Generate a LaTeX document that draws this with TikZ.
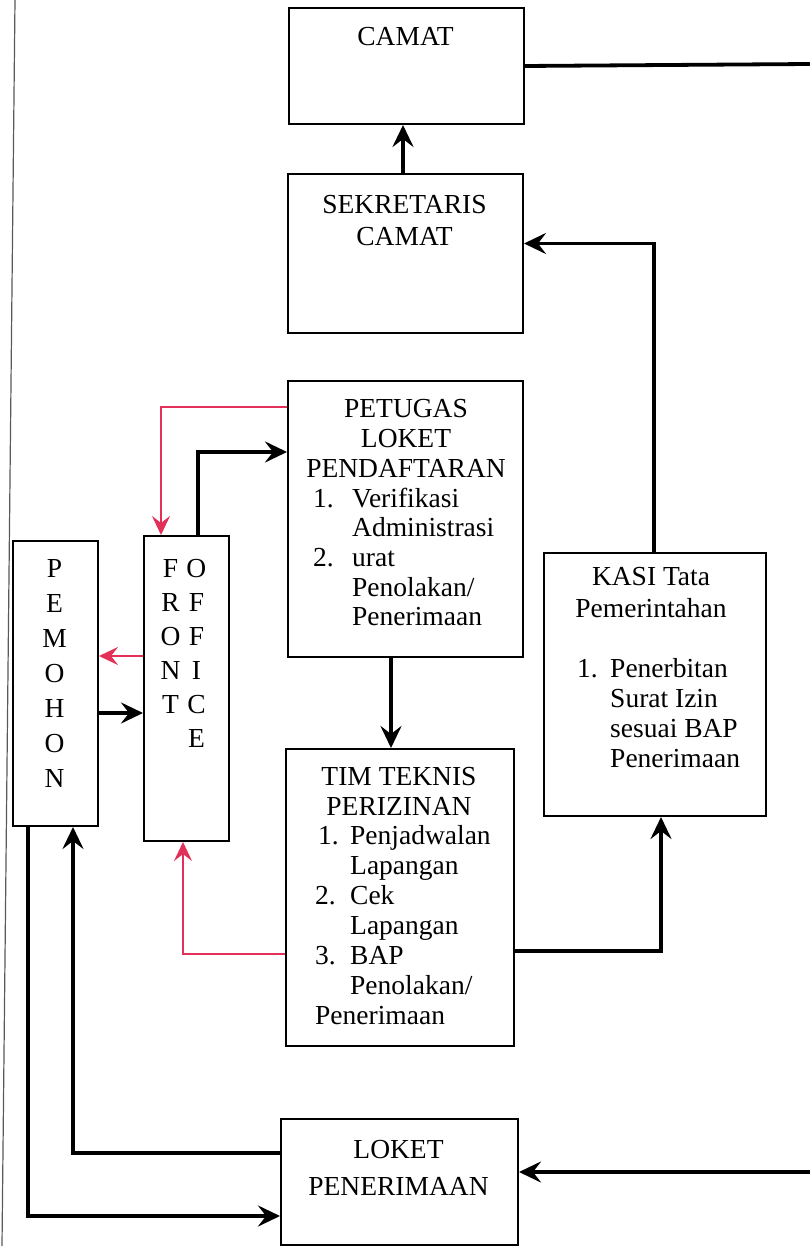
\documentclass[tikz,border=0pt]{standalone}
\usepackage{fontspec}
\setmainfont{Liberation Serif}
\usetikzlibrary{arrows.meta}
\definecolor{redline}{RGB}{226,48,88}
\begin{document}
\begin{tikzpicture}[x=1pt,y=-1pt,
  box/.style={draw, line width=2pt, inner sep=0pt, anchor=north west},
  txt/.style={inner sep=0pt, font=\fontsize{27.5}{30}\selectfont},
  tip/.style={-{Stealth[length=22pt,width=21pt,inset=8pt]}},
  rtip/.style={-{Stealth[length=19pt,width=18pt,inset=7pt]}},
  conn/.style={tip, line width=3.8pt, black},
  rconn/.style={rtip, line width=2.6pt, redline},
  plain/.style={line width=3.8pt, black}
]
\fill[white] (0,0) rectangle (810,1246);
\useasboundingbox (0,0) rectangle (810,1246);
% page edge of the scan
\draw[line width=1.2pt, black!65] (15,0) -- (2,1246);

% boxes
\node[box, minimum width=235pt, minimum height=116pt] (camat) at (288,7) {};
\node[box, minimum width=235pt, minimum height=159pt] (sek) at (287,173) {};
\node[box, minimum width=235pt, minimum height=276pt] (pet) at (287,380) {};
\node[box, minimum width=228pt, minimum height=297pt] (tim) at (285,748) {};
\node[box, minimum width=222pt, minimum height=263pt] (kasi) at (543,552) {};
\node[box, minimum width=85pt, minimum height=285pt] (pem) at (12,540) {};
\node[box, minimum width=85pt, minimum height=305pt] (fo) at (143,535) {};
\node[box, minimum width=237pt, minimum height=126pt] (lok) at (280,1118) {};

% texts
\node[txt, anchor=north] (camatT) at (405.5,24) {\begin{tabular}{@{}c@{}}CAMAT\end{tabular}};
\node[txt, anchor=north, font=\fontsize{27.5}{32}\selectfont] (sekT) at (404.5,190.6)
  {\begin{tabular}{@{}c@{}}SEKRETARIS\\CAMAT\end{tabular}};
\node[txt, anchor=north, font=\fontsize{27.5}{29.7}\selectfont] (petT) at (406,397)
  {\begin{tabular}{@{}c@{}}PETUGAS\\LOKET\\PENDAFTARAN\end{tabular}};
\node[txt, anchor=north west, font=\fontsize{27.5}{29.7}\selectfont] (petL) at (313,486.1)
  {\begin{tabular}{@{}p{39pt}@{}l@{}}1.&Verifikasi\\&Administrasi\\2.&urat\\&Penolakan/\\&Penerimaan\end{tabular}};
\node[txt, anchor=north] (timT) at (399,764)
  {\begin{tabular}{@{}c@{}}TIM TEKNIS\\PERIZINAN\end{tabular}};
\node[txt, anchor=north west] (timL) at (315,823.5)
  {\begin{tabular}{@{}p{35pt}@{}l@{}}\hspace{3pt}1.&Penjadwalan\\&Lapangan\\2.&Cek\\&Lapangan\\3.&BAP\\&Penolakan/\\\multicolumn{2}{@{}l@{}}{Penerimaan}\end{tabular}};
\node[txt, anchor=north, font=\fontsize{27.5}{32}\selectfont] (kasiT) at (651,562.6)
  {\begin{tabular}{@{}c@{}}KASI Tata\\Pemerintahan\end{tabular}};
\node[txt, anchor=north west] (kasiL) at (577,656)
  {\begin{tabular}{@{}p{33pt}@{}l@{}}1.&Penerbitan\\&Surat Izin\\&sesuai BAP\\&Penerimaan\end{tabular}};
\node[txt, anchor=north, font=\fontsize{27.5}{35}\selectfont] (pemT) at (54.5,552.5)
  {\begin{tabular}{@{}c@{}}P\\E\\M\\O\\H\\O\\N\end{tabular}};
\node[txt, anchor=north, font=\fontsize{27.5}{34}\selectfont] (foT) at (183.5,553.2)
  {\begin{tabular}{@{}c@{\hspace{6pt}}c@{}}F&O\\R&F\\O&F\\N&I\\T&C\\&E\end{tabular}};
\node[txt, anchor=north, font=\fontsize{27.5}{37}\selectfont] (lokT) at (398.5,1132)
  {\begin{tabular}{@{}c@{}}LOKET\\PENERIMAAN\end{tabular}};

% free ends at the right edge
\coordinate (rtop) at (810,64);
\coordinate (rbot) at (810,1172);

% connectors
\draw[conn] ([xshift=-2.5pt]sek.north) -- ([xshift=-2.5pt]sek.north |- camat.south);
\draw[plain] (camat.east) -- (rtop);
\draw[conn] ([xshift=-1pt]kasi.north) |- ([yshift=10pt]sek.east);
\draw[conn] ([xshift=-14.5pt]pet.south) -- ([xshift=-14.5pt]pet.south |- tim.north);
\draw[conn] ([yshift=-53.5pt]tim.east) -| ([xshift=6pt]kasi.south);
\draw[rconn] ([yshift=-27pt]pet.north west) -| ([xshift=-25.5pt]fo.north);
\draw[conn] ([xshift=11.5pt]fo.north) |- ([yshift=-72pt]pet.north west);
\draw[rconn] ([yshift=32.5pt]fo.west) -- ([yshift=32.5pt]fo.west -| pem.east);
\draw[conn] ([yshift=-29.5pt]pem.east) -- ([yshift=-29.5pt]pem.east -| fo.west);
\draw[rconn] ([yshift=-56.5pt]tim.west) -| ([xshift=-3.5pt]fo.south);
\draw[conn] ([xshift=-27.5pt]pem.south) |- ([yshift=-34pt]lok.west);
\draw[conn] ([yshift=29pt]lok.west) -| ([xshift=17.5pt]pem.south);
\draw[conn] (rbot) -- (rbot -| lok.east);
\end{tikzpicture}
\end{document}
